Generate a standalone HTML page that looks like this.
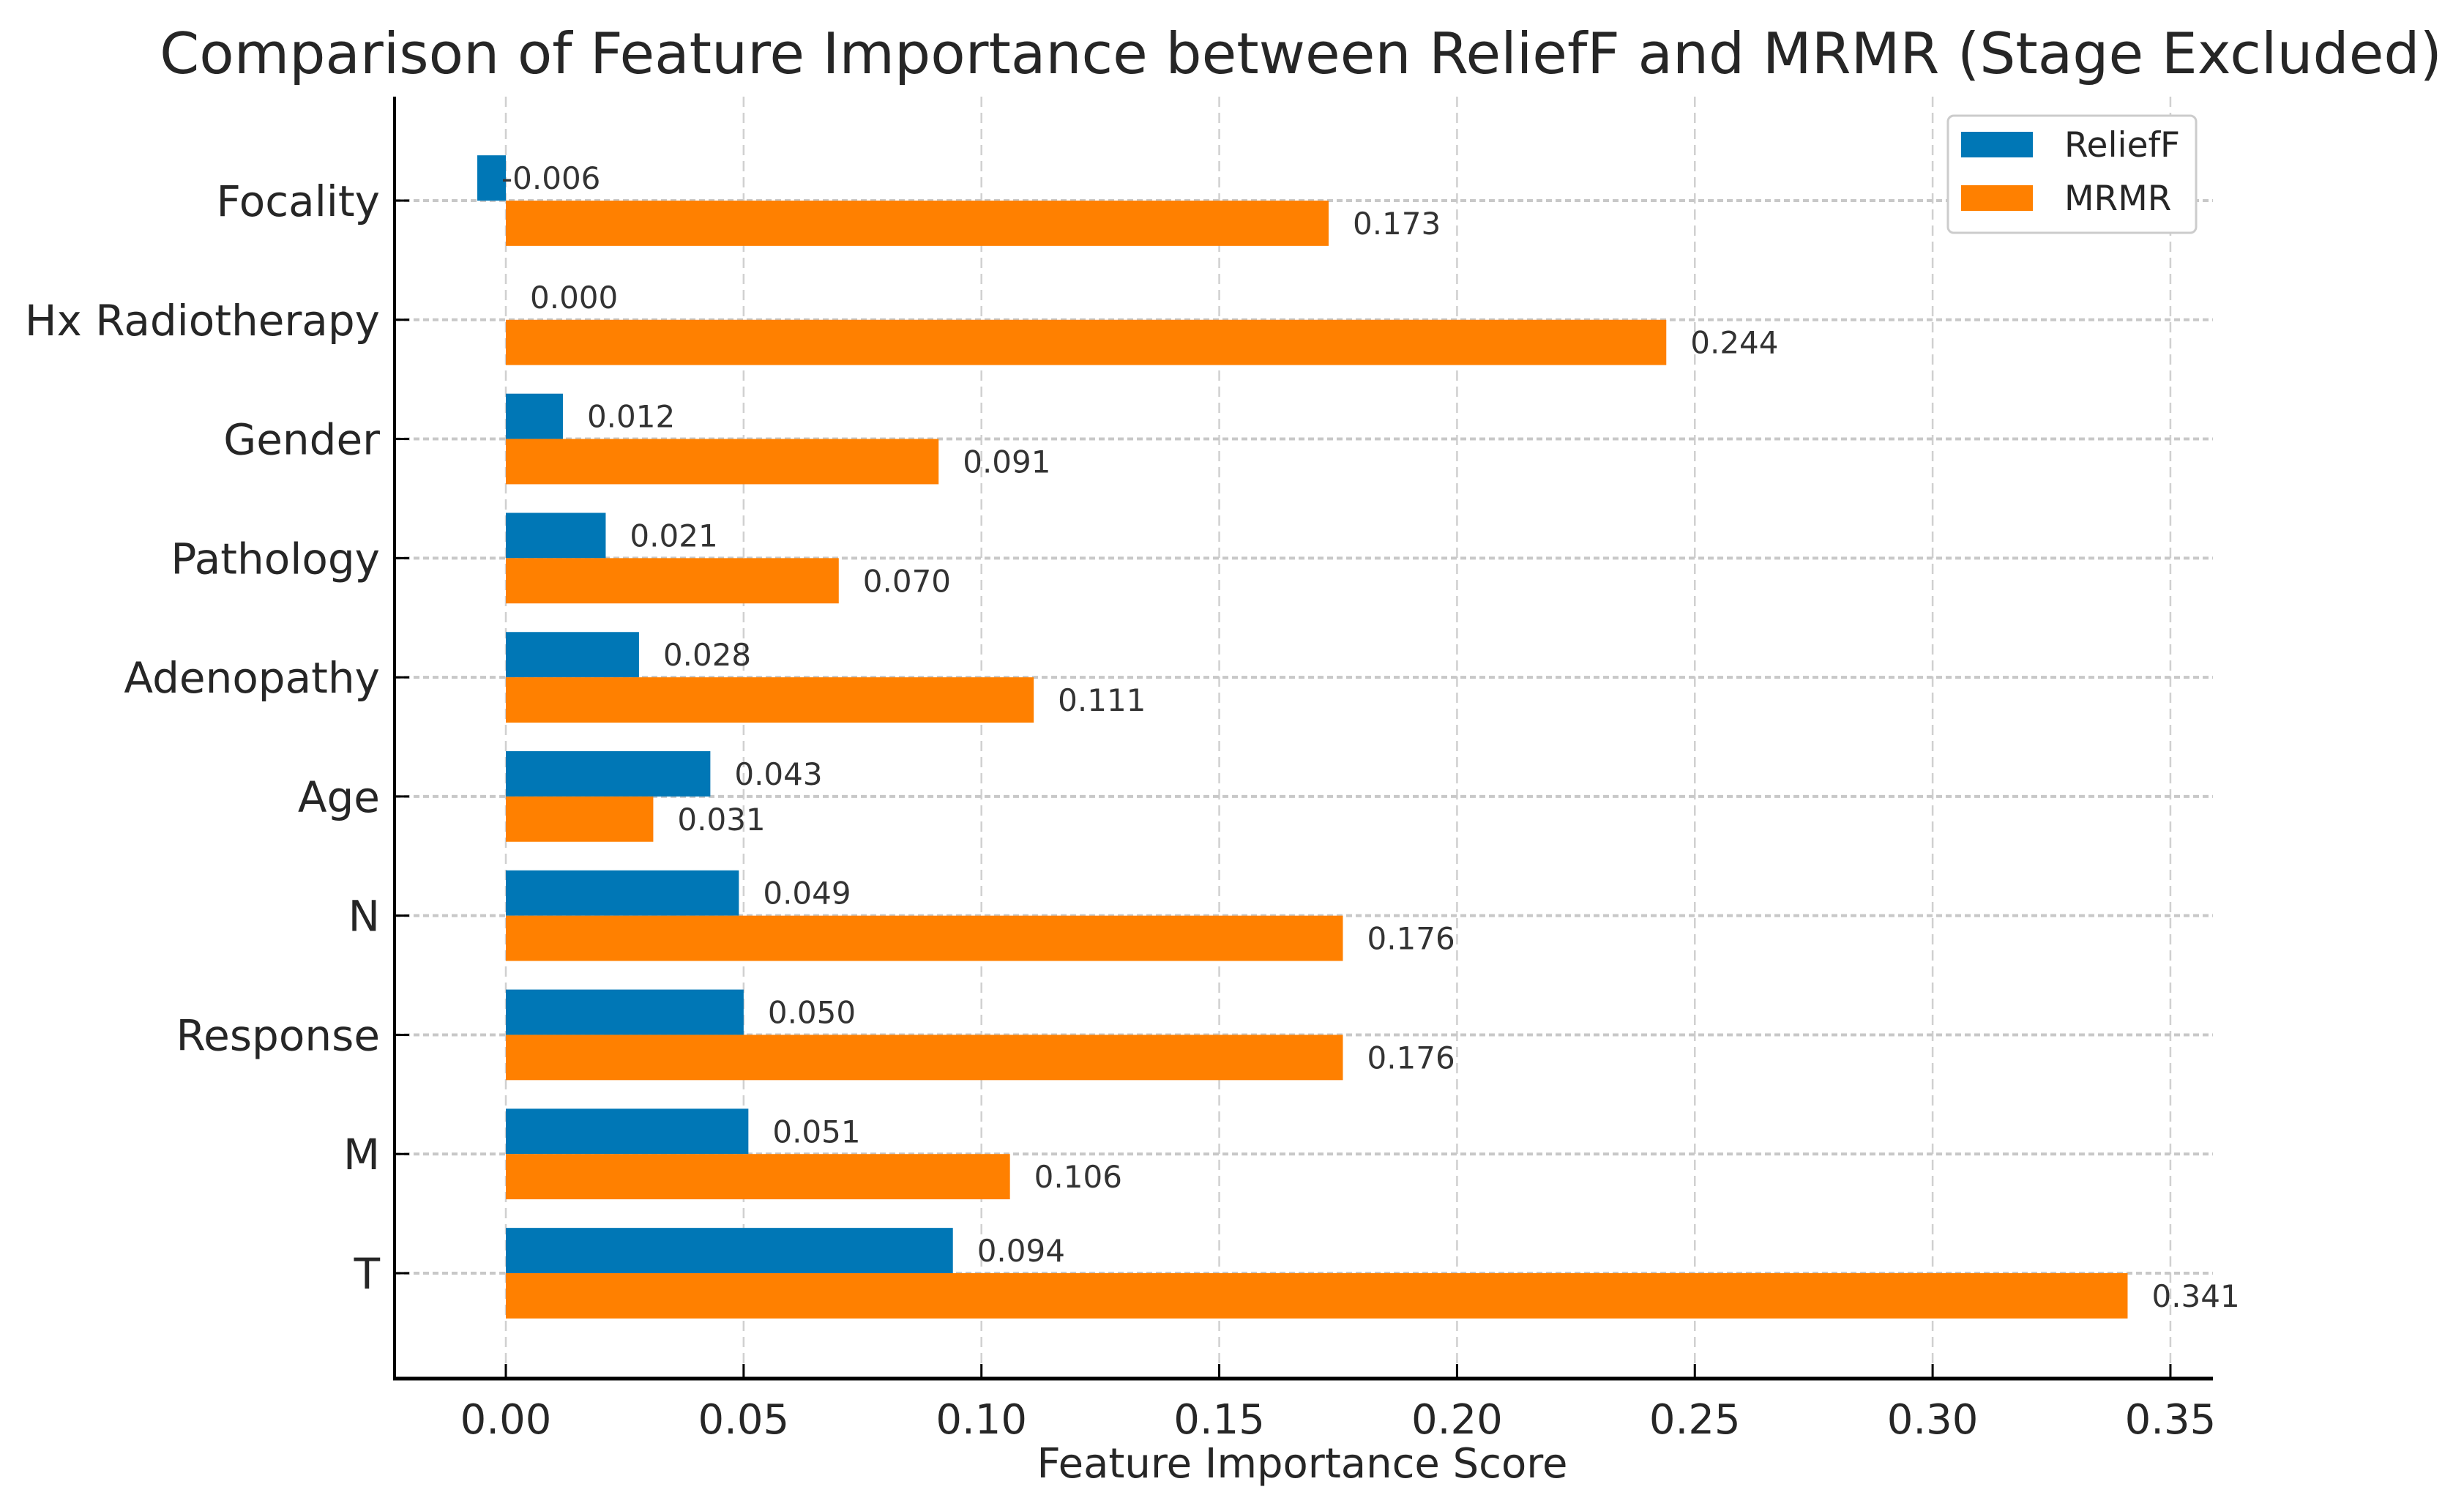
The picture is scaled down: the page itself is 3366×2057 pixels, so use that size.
<!DOCTYPE html>
<html><head><meta charset="utf-8"><style>
html,body{margin:0;padding:0;background:#fff;}
svg{display:block;font-family:"DejaVu Sans","Liberation Sans",sans-serif;}
</style></head><body>
<svg id="chart" width="3366" height="2057" viewBox="0 0 3366 2057" xmlns="http://www.w3.org/2000/svg">
<rect width="3366" height="2057" fill="#fff"/>
<text x="1777" y="100" font-size="77.5" fill="#262626" text-anchor="middle">Comparison of Feature Importance between ReliefF and MRMR (Stage Excluded)</text>
<g id="grid"></g><g id="bars"></g><g id="labels"></g><g id="axes"></g>
<text x="1779" y="2018" font-size="56" fill="#262626" text-anchor="middle">Feature Importance Score</text>
<g>
<rect x="2661" y="158" width="339" height="160" rx="8" fill="#fff" stroke="#ccc" stroke-width="3"/>
<rect x="2679" y="180" width="98" height="35" fill="#0077B6"/>
<text x="2820" y="214" font-size="47" fill="#262626">ReliefF</text>
<rect x="2679" y="253" width="98" height="35" fill="#FF8000"/>
<text x="2820" y="287" font-size="47" fill="#262626">MRMR</text>
</g>
</svg>
<script>
const categories=["T","M","Response","N","Age","Adenopathy","Pathology","Gender","Hx Radiotherapy","Focality"];
const relieff=[0.094,0.051,0.050,0.049,0.043,0.028,0.021,0.012,0.000,-0.006];
const mrmr=[0.341,0.106,0.176,0.176,0.031,0.111,0.070,0.091,0.244,0.173];
const xTicks=[0,0.05,0.10,0.15,0.20,0.25,0.30,0.35];
const xTickLabels=["0.00","0.05","0.10","0.15","0.20","0.25","0.30","0.35"];

const NS="http://www.w3.org/2000/svg";
const L=539,R=3023,T=132,B=1883;
const x0=691,pxPerUnit=6497;
const X=v=>x0+v*pxPerUnit;
const Y=i=>1739-i*(1739-274)/9;
const step=(1739-274)/9, h=0.38*step;
function mk(tag,attrs,parent){const e=document.createElementNS(NS,tag);for(const k in attrs)e.setAttribute(k,attrs[k]);parent.appendChild(e);return e;}
const grid=document.getElementById('grid'),bars=document.getElementById('bars'),labels=document.getElementById('labels'),axes=document.getElementById('axes');

xTicks.forEach((v,i)=>{
  const g=mk('line',{x1:X(v),x2:X(v),y1:T,y2:B,stroke:'#d0d0d0','stroke-width':2.5,'stroke-dasharray':'14 8'},grid);
  
  
  const t=mk('line',{x1:X(v),x2:X(v),y1:B,y2:B-20,stroke:'#000','stroke-width':3},axes);
  
  
  const tl=mk('text',{x:X(v),y:B+75,'font-size':56,fill:'#262626','text-anchor':'middle'},axes);
  tl.textContent=xTickLabels[i];
  
  
});
categories.forEach((c,i)=>{
  const y=Y(i);
  const g=mk('line',{x1:L,x2:R,y1:y,y2:y,stroke:'#c8c8c8','stroke-width':4,'stroke-dasharray':'8 5'},grid);
  
  
  const vr=relieff[i],vm=mrmr[i];
  const b1=mk('rect',{x:Math.min(X(0),X(vr)),y:y-h,width:Math.abs(X(vr)-X(0)),height:h,fill:'#0077B6'},bars);
  
  
  const b2=mk('rect',{x:Math.min(X(0),X(vm)),y:y,width:Math.abs(X(vm)-X(0)),height:h,fill:'#FF8000'},bars);
  
  
  const l1=mk('text',{x:X(vr)+33,y:y-h/2+15,'font-size':42,fill:'#333'},labels);
  l1.textContent=vr.toFixed(3);
  
  
  const l2=mk('text',{x:X(vm)+33,y:y+h/2+15,'font-size':42,fill:'#333'},labels);
  l2.textContent=vm.toFixed(3);
  
  
  const t=mk('line',{x1:L,x2:L+20,y1:y,y2:y,stroke:'#000','stroke-width':3},axes);
  
  
  const tl=mk('text',{x:L-20,y:y+21,'font-size':58,fill:'#262626','text-anchor':'end'},axes);
  tl.textContent=c;
  
  
});
const ly=mk('line',{x1:L,x2:L,y1:T,y2:B+2,stroke:'#000','stroke-width':4},axes);


const lx=mk('line',{x1:L-2,x2:R,y1:B,y2:B,stroke:'#000','stroke-width':5},axes);


</script>
</body></html>
